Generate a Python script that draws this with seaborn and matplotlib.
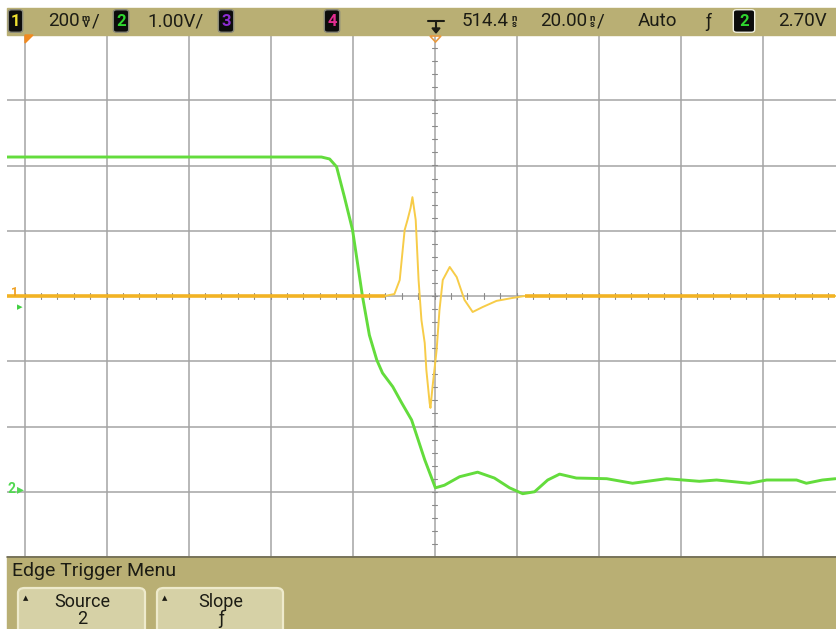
import numpy as np
import pandas as pd
import matplotlib
matplotlib.use("Agg")
import matplotlib.pyplot as plt
from matplotlib.patches import Rectangle, FancyBboxPatch, Polygon
from matplotlib.lines import Line2D
import seaborn as sns

# channel 2 (green), 1 V/div, ground 3 div below centre
ch2_time_ns = [-104.4, -27.6, -25.6, -23.9, -22.0, -20.0, -17.6, -15.9, -14.1, -12.7,
               -10.2, -8.0, -5.6, -2.4, 0.2, 2.4, 6.1, 10.5, 14.6, 18.3, 21.5, 24.4,
               27.6, 30.5, 34.6, 42.0, 48.3, 56.6, 64.6, 68.8, 76.8, 81.0, 88.3, 90.7,
               94.6, 97.8]
ch2_volts = [5.13, 5.13, 5.10, 4.98, 4.52, 4.01, 3.00, 2.40, 2.02, 1.82,
             1.61, 1.36, 1.10, 0.49, 0.06, 0.10, 0.23, 0.30, 0.21, 0.06, -0.03, 0.0,
             0.18, 0.27, 0.21, 0.20, 0.13, 0.20, 0.16, 0.18, 0.13, 0.18, 0.18, 0.13,
             0.18, 0.20]

# channel 1 (yellow), 200 mV/div, ground at centre
ch1_time_ns = [-104.4, -12.2, -9.8, -8.5, -7.3, -6.6, -5.85, -5.4, -4.6, -3.9, -3.2,
               -2.4, -2.0, -1.2, -1.0, -0.5, 0.5, 1.2, 2.0, 3.7, 5.4, 7.3, 9.3, 11.7,
               15.1, 19.0, 22.0, 97.8]
ch1_mv = [0, 0, 6, 49, 202, 233, 270, 303, 233, 49, -74,
          -144, -227, -328, -343, -279, -166, -43, 49, 89, 58, -12, -49, -34,
          -15, -6, 0, 0]

ch1_scale = 200.0
ch2_scale = 1.0
ch2_offset = -3.0

W, H = 836, 629
def fx(x):
    return x / W
def fy(y):
    return 1 - y / H

sns.set_style("white")
plt.rcParams['font.family'] = ['Roboto', 'DejaVu Sans']

fig = plt.figure(figsize=(W / 100, H / 100), dpi=100, facecolor="white")
ax = fig.add_axes([fx(7), fy(557), fx(844.5) - fx(7), fy(35) - fy(557)])
ax.set_facecolor("white")

df1 = pd.DataFrame({"t": ch1_time_ns, "div": np.array(ch1_mv) / ch1_scale})
df2 = pd.DataFrame({"t": ch2_time_ns, "div": np.array(ch2_volts) / ch2_scale + ch2_offset})

ax.set_xlim(-104.3, 100)
ax.set_ylim(-4, 4)
ax.set_xticks(np.arange(-100, 101, 20))
ax.set_yticks(np.arange(-4, 5, 1))
ax.grid(True, color="#a4a4a4", lw=1.1)
ax.tick_params(length=0, labelbottom=False, labelleft=False)
for s in ax.spines.values():
    s.set_visible(False)

# minor ticks on centre axes
for yy in np.arange(-4, 4.01, 0.2):
    ax.plot([-0.7, 0.7], [yy, yy], color="#8a8a8a", lw=0.8, zorder=1)
for xx in np.arange(-100, 100.1, 4):
    ax.plot([xx, xx], [-0.04, 0.04], color="#8a8a8a", lw=0.8, zorder=1)

sns.lineplot(data=df2, x="t", y="div", ax=ax, color="#63dc3c", lw=2.1,
             estimator=None, sort=False, zorder=3)
sns.lineplot(data=df1, x="t", y="div", ax=ax, color="#f7cc48", lw=1.4,
             estimator=None, sort=False, zorder=4)
# thicker, more orange baseline where the trace is flat
flat = df1["div"].where(df1["div"].abs() < 0.005)
ax.plot(df1["t"], flat, color="#f2b324", lw=2.6, zorder=4, solid_capstyle="butt")
ax.set_xlabel("")
ax.set_ylabel("")

tan = "#b9af74"
txt = "#1c1c14"
# top status bar
fig.add_artist(Rectangle((fx(7), fy(35)), 1 - fx(7), fy(8) - fy(35),
                         transform=fig.transFigure, color=tan, zorder=5))
# bottom menu
fig.add_artist(Rectangle((fx(7), 0), 1 - fx(7), fy(557),
                         transform=fig.transFigure, color=tan, zorder=5))
fig.add_artist(Line2D([fx(7), 1], [fy(557), fy(557)], transform=fig.transFigure,
                      color="#6e6a50", lw=1.2, zorder=6))

def chan_box(x0, x1, label, col, edge="#8a8a7a"):
    fig.add_artist(FancyBboxPatch((fx(x0), fy(31)), fx(x1) - fx(x0), fy(11) - fy(31),
                                  boxstyle="round,pad=0.002,rounding_size=0.004",
                                  transform=fig.transFigure, facecolor="#0c0c0c",
                                  edgecolor=edge, lw=1.0, zorder=6))
    fig.text(fx((x0 + x1) / 2), fy(21.5), label, color=col, fontsize=12,
             fontweight="bold", ha="center", va="center", zorder=7)

chan_box(10, 21, "1", "#eee030")
chan_box(115, 127, "2", "#2fd62f")
chan_box(220, 232, "3", "#8c2cd0")
chan_box(326, 338, "4", "#e02c90")
chan_box(735, 753, "2", "#2fd62f", edge="#f0f0e0")

fs = 13.5
def unit(x, s):
    fig.text(fx(x), fy(21.5), s, fontsize=6.8, color=txt, ha="center", va="center",
             linespacing=0.7, fontweight="bold", zorder=7)

fig.text(fx(80), fy(21.5), "200", fontsize=fs, color=txt, ha="right", va="center", zorder=7)
unit(86, "m\nV")
fig.text(fx(92), fy(21.5), "/", fontsize=fs, color=txt, ha="left", va="center", zorder=7)
fig.text(fx(147), fy(21.5), "1.00V/", fontsize=fs, color=txt, ha="left", va="center", zorder=7)
fig.text(fx(509), fy(21.5), "514.4", fontsize=fs, color=txt, ha="right", va="center", zorder=7)
unit(514.5, "n\ns")
fig.text(fx(587), fy(21.5), "20.00", fontsize=fs, color=txt, ha="right", va="center", zorder=7)
unit(592.5, "n\ns")
fig.text(fx(597), fy(21.5), "/", fontsize=fs, color=txt, ha="left", va="center", zorder=7)
fig.text(fx(638), fy(21.5), "Auto", fontsize=fs, color=txt, ha="left", va="center", zorder=7)
fig.text(fx(708), fy(21.5), "ƒ", fontsize=13, color=txt, ha="center", va="center", zorder=7)
fig.text(fx(778), fy(21.5), "2.70V", fontsize=fs, color=txt, ha="left", va="center", zorder=7)

# trigger position marker in the bar
fig.add_artist(Line2D([fx(428), fx(444)], [fy(21), fy(21)], transform=fig.transFigure,
                      color=txt, lw=1.5, zorder=7))
fig.add_artist(Line2D([fx(436), fx(436)], [fy(21), fy(30)], transform=fig.transFigure,
                      color=txt, lw=1.5, zorder=7))
fig.add_artist(Polygon([[fx(432), fy(28)], [fx(440), fy(28)], [fx(436), fy(33)]],
                       closed=True, transform=fig.transFigure, color=txt, zorder=7))
fig.add_artist(Polygon([[fx(430), fy(36)], [fx(441), fy(36)], [fx(435.5), fy(42)]],
                       closed=True, transform=fig.transFigure, facecolor="none",
                       edgecolor="#e89a40", lw=1.2, zorder=7))
# time reference marker, top-left
fig.add_artist(Polygon([[fx(25), fy(35)], [fx(33), fy(35)], [fx(25), fy(43)]],
                       closed=True, transform=fig.transFigure, color="#f08a20", zorder=7))

# ground / trigger markers on the left
fig.text(fx(15), fy(293), "1", fontsize=9, color="#f0a020", ha="center", va="center",
         fontweight="bold", zorder=7)
fig.text(fx(20), fy(307), "▸", fontsize=8, color="#40d040", ha="center", va="center", zorder=7)
fig.text(fx(12), fy(489), "2", fontsize=10, color="#50d850", ha="center", va="center",
         fontweight="bold", zorder=7)
fig.text(fx(20), fy(489), "▸", fontsize=10, color="#50d850", ha="center", va="center", zorder=7)

# menu
fig.text(fx(12), fy(571), "Edge Trigger Menu", fontsize=14, color=txt, ha="left",
         va="center", zorder=7)

def softkey(x0, x1, title, value):
    fig.add_artist(FancyBboxPatch((fx(x0), fy(640)), fx(x1) - fx(x0), fy(588) - fy(640),
                                  boxstyle="round,pad=0,rounding_size=0.008",
                                  transform=fig.transFigure, facecolor="#d6d1a6",
                                  edgecolor="#eeeacc", lw=1.6, zorder=6))
    fig.text(fx(x0 + 8), fy(599), "▲", fontsize=5, color=txt, ha="center", va="center", zorder=7)
    cx = (x0 + x1) / 2 + 1
    fig.text(fx(cx), fy(602), title, fontsize=13, color=txt, ha="center", va="center", zorder=7)
    fig.text(fx(cx), fy(619), value, fontsize=13, color=txt, ha="center", va="center", zorder=7)

softkey(18, 145, "Source", "2")
softkey(157, 283, "Slope", "ƒ")

fig.savefig("out.png", dpi=100, facecolor="white")
